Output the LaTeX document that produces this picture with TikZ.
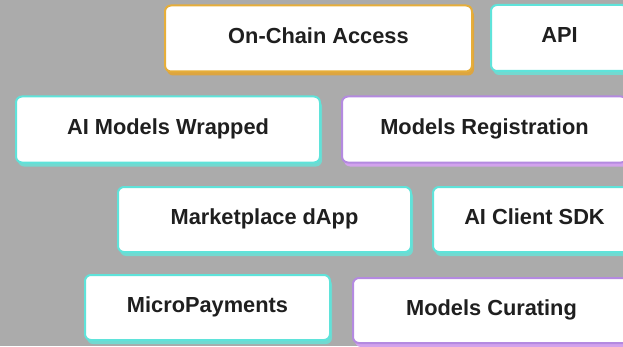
\documentclass[tikz,border=0pt]{standalone}
\usepackage{fontspec}
\setmainfont{Liberation Sans}
\usetikzlibrary{shadows}
\definecolor{bggray}{HTML}{ABABAB}
\definecolor{tealline}{HTML}{5FE3DA}
\definecolor{tealshade}{HTML}{72D9D0}
\definecolor{lilacline}{HTML}{B48AE0}
\definecolor{lilacshade}{HTML}{D2A2EC}
\definecolor{goldline}{HTML}{E6AE3A}
\definecolor{goldshade}{HTML}{DDA540}

\begin{document}
\begin{tikzpicture}
  [x=1pt, y=1pt,
    every node/.style={rectangle, rounded corners=6pt, fill=white, line width=2pt,
      minimum height=66pt, inner sep=0pt, text=black!88, text height=16pt, text depth=6pt,
    font=\fontsize{21.8}{26}\selectfont\bfseries},
    teal tile/.style={draw=tealline, general shadow={shadow xshift=2pt, shadow yshift=-4pt, fill=tealshade}},
    lilac tile/.style={draw=lilacline, general shadow={shadow xshift=2pt, shadow yshift=-4pt, fill=lilacshade}},
  gold tile/.style={draw=goldline, general shadow={shadow xshift=2pt, shadow yshift=-4pt, fill=goldshade}},
]

  \useasboundingbox (0,0) rectangle (623,346);
  \clip (0,0) rectangle (623,346);
  \fill[bggray] (0,0) rectangle (623,346);

  % top row
  \node[gold tile, minimum width=307pt] (onchain) at (318.5,307.5) {On-Chain Access};
  \node[teal tile, minimum width=137pt] (api) at (559.5,308) {API};

  % second row
  \node[teal tile, minimum width=304pt] (wrapped) at (168,216.5) {AI Models Wrapped};
  \node[lilac tile, minimum width=285pt] (registration) at (484.5,216.5) {Models Registration};

  % third row
  \node[teal tile, minimum width=293pt, minimum height=65pt] (dapp) at (264.5,126.5) {Marketplace dApp};
  \node[teal tile, minimum width=203pt, minimum height=65pt] (sdk) at (534.5,126.5) {AI Client SDK};

  % bottom row
  \node[teal tile, minimum width=245pt, minimum height=65pt] (payments) at (207.5,38.5) {MicroPayments};
  \node[lilac tile, minimum width=277pt, minimum height=65pt] (curating) at (491.5,35.5) {Models Curating};
\end{tikzpicture}
\end{document}
